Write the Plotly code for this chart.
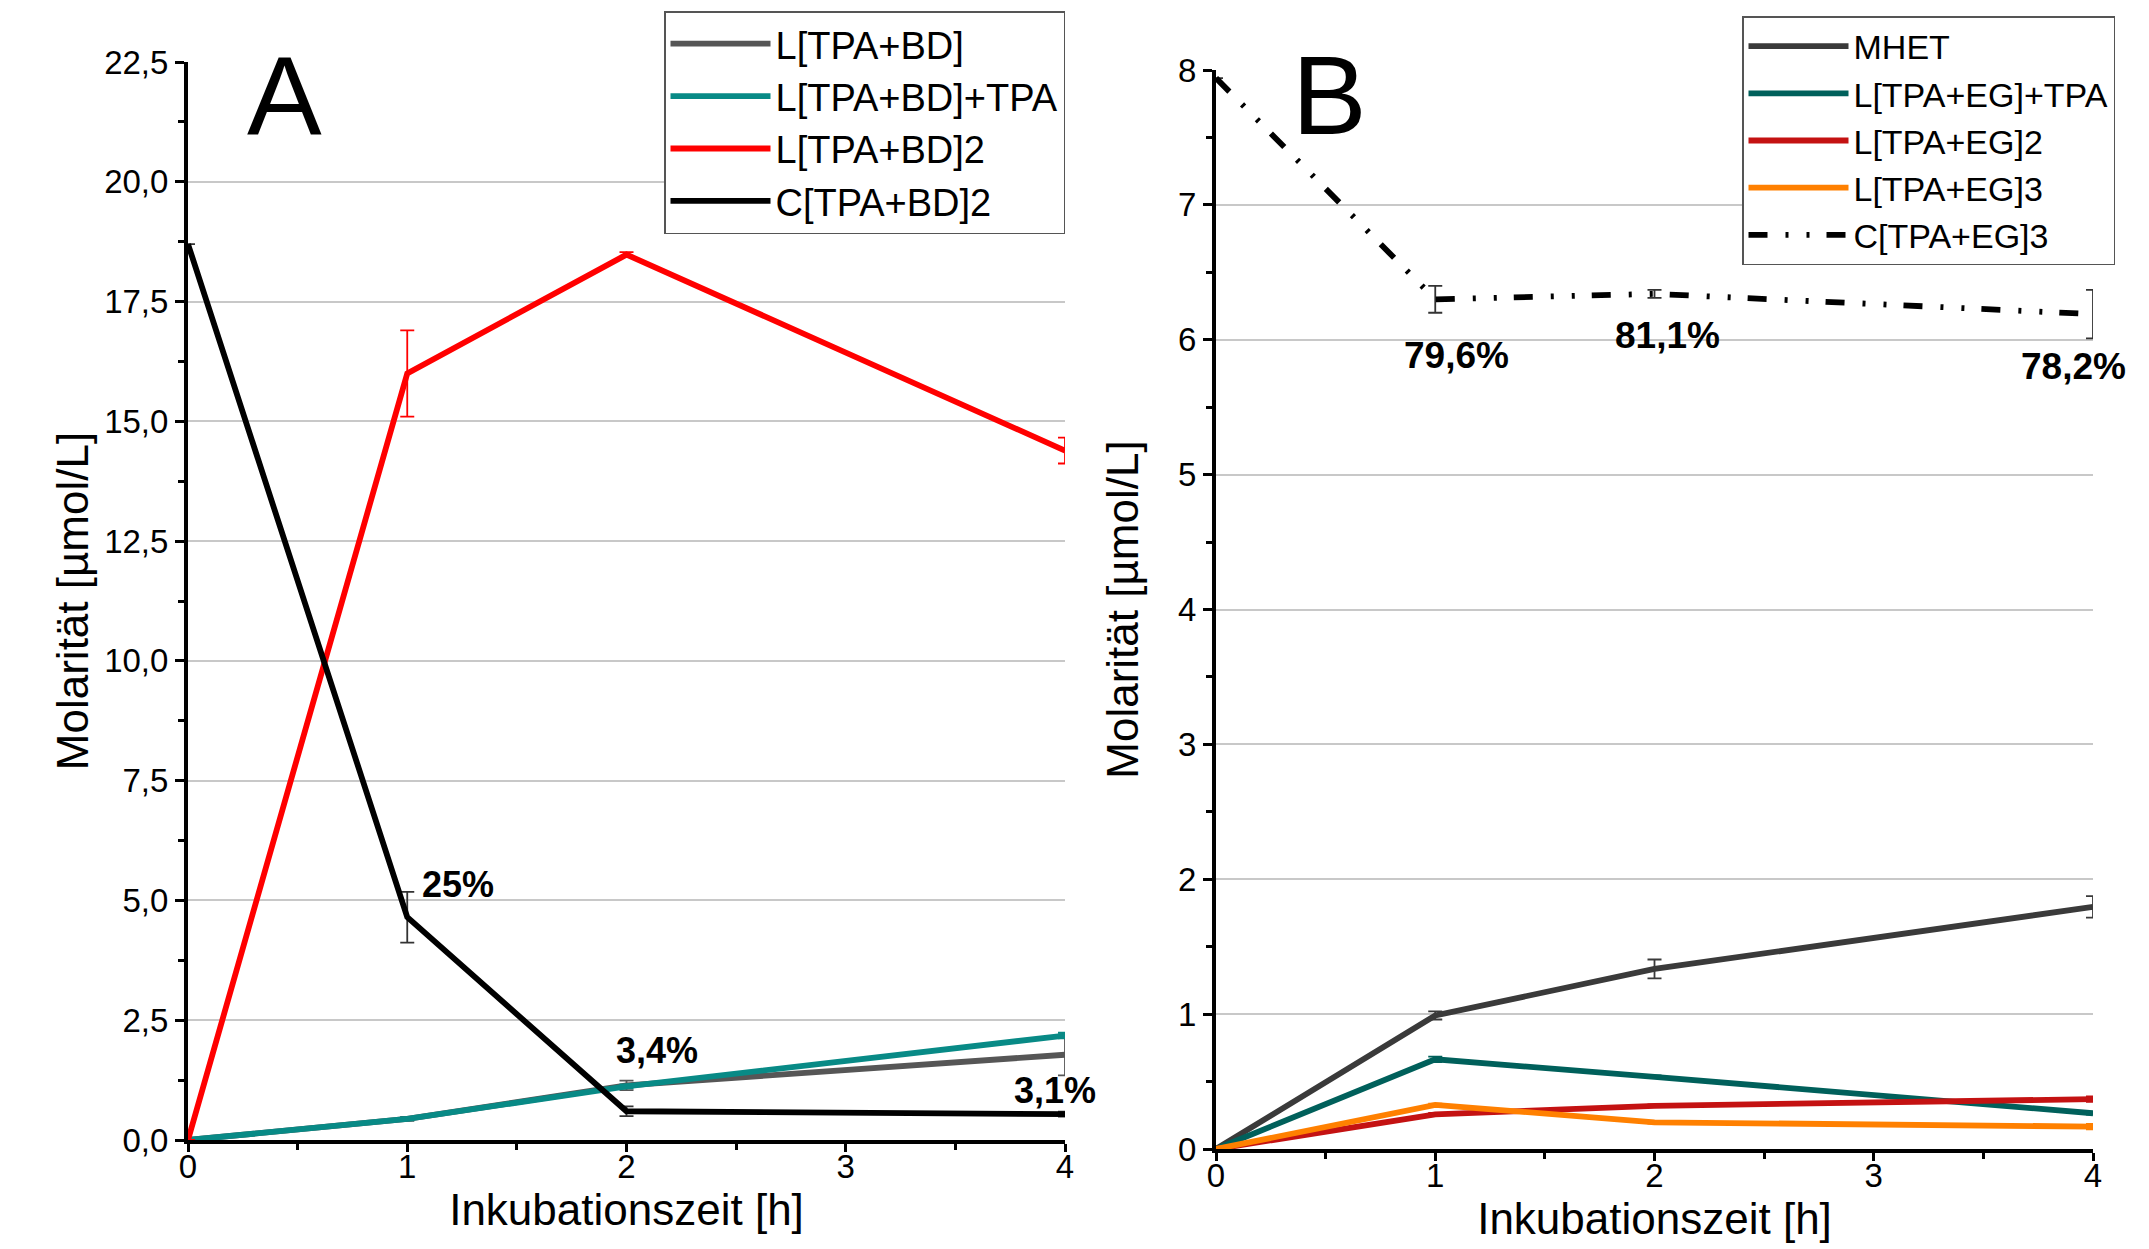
import plotly.graph_objects as go

# ---------------- data ----------------
time_h = [0, 1, 2, 4]

# Panel A
a_names = ["L[TPA+BD]", "L[TPA+BD]+TPA", "L[TPA+BD]2", "C[TPA+BD]2"]
a_l_bd = [0.0, 0.44, 1.14, 1.78]
a_l_bd_err = [None, 0.04, 0.10, 0.43]
a_l_bd_tpa = [0.0, 0.44, 1.12, 2.18]
a_l_bd_tpa_err = [None, 0.03, 0.04, 0.06]
a_l_bd2 = [0.0, 16.0, 18.48, 14.39]
a_l_bd2_err = [None, 0.9, 0.05, 0.27]
a_c_bd2 = [18.7, 4.65, 0.60, 0.54]
a_c_bd2_err = [None, 0.53, 0.10, 0.05]
a_pct_labels = ["25%", "3,4%", "3,1%"]
a_pct_x = [1.23, 2.14, 3.955]
a_pct_y = [5.34, 1.86, 1.04]

# Panel B
b_names = ["MHET", "L[TPA+EG]+TPA", "L[TPA+EG]2", "L[TPA+EG]3", "C[TPA+EG]3"]
b_mhet = [0.0, 0.99, 1.335, 1.795]
b_mhet_err = [None, 0.03, 0.07, 0.08]
b_l_eg_tpa = [0.0, 0.665, 0.535, 0.265]
b_l_eg_tpa_err = [None, 0.02, 0.01, 0.01]
b_l_eg2 = [0.0, 0.257, 0.32, 0.37]
b_l_eg2_err = [None, 0.01, 0.01, 0.02]
b_l_eg3 = [0.0, 0.327, 0.198, 0.166]
b_l_eg3_err = [None, 0.01, 0.01, 0.02]
b_c_eg3 = [7.94, 6.30, 6.34, 6.19]
b_c_eg3_err = [None, 0.10, 0.03, 0.18]
b_pct_labels = ["79,6%", "81,1%", "78,2%"]
b_pct_x = [1.095, 2.06, 3.91]
b_pct_y = [5.88, 6.03, 5.80]

x_ticks = [0, 1, 2, 3, 4]
a_y_ticks = [0, 2.5, 5, 7.5, 10, 12.5, 15, 17.5, 20, 22.5]
b_y_ticks = [0, 1, 2, 3, 4, 5, 6, 7, 8]

FONT = "Liberation Sans, Arial, sans-serif"
LW = 5.8
W, H = 2149, 1249
OFF = 8  # page body margin


def px(v):
    return (v - OFF) / W


def py(v):
    return 1 - (v - OFF) / H


fig = go.Figure()


def add_series(x, y, err, name, color, errcolor, xa, ya, legend, dash="solid"):
    fig.add_trace(go.Scatter(
        x=x, y=y, name=name, mode="lines",
        line=dict(color=color, width=LW, dash=dash),
        error_y=dict(type="data", array=err, visible=True, color=errcolor,
                     thickness=1.8, width=7),
        xaxis=xa, yaxis=ya, legend=legend, cliponaxis=False,
    ))


# Panel A traces
add_series(time_h, a_l_bd, a_l_bd_err, a_names[0], "#565656", "#565656", "x", "y", "legend")
add_series(time_h, a_l_bd_tpa, a_l_bd_tpa_err, a_names[1], "#088a86", "#088a86", "x", "y", "legend")
add_series(time_h, a_l_bd2, a_l_bd2_err, a_names[2], "#ff0000", "#ff0000", "x", "y", "legend")
add_series(time_h, a_c_bd2, a_c_bd2_err, a_names[3], "#000000", "#333333", "x", "y", "legend")

# Panel B traces
add_series(time_h, b_mhet, b_mhet_err, b_names[0], "#3a3a3a", "#3a3a3a", "x2", "y2", "legend2")
add_series(time_h, b_l_eg_tpa, b_l_eg_tpa_err, b_names[1], "#00605b", "#00605b", "x2", "y2", "legend2")
add_series(time_h, b_l_eg2, b_l_eg2_err, b_names[2], "#c41212", "#c41212", "x2", "y2", "legend2")
add_series(time_h, b_l_eg3, b_l_eg3_err, b_names[3], "#ff8000", "#ff8000", "x2", "y2", "legend2")
add_series(time_h, b_c_eg3, b_c_eg3_err, b_names[4], "#000000", "#333333", "x2", "y2", "legend2",
           dash="19px,18px,3px,18px,3px,17px")

annots = []
for t, xx, yy in zip(a_pct_labels, a_pct_x, a_pct_y):
    annots.append(dict(x=xx, y=yy, xref="x", yref="y", text="<b>%s</b>" % t, showarrow=False,
                       xanchor="center", yanchor="middle",
                       font=dict(family=FONT, size=36, color="#000")))
for t, xx, yy in zip(b_pct_labels, b_pct_x, b_pct_y):
    annots.append(dict(x=xx, y=yy, xref="x2", yref="y2", text="<b>%s</b>" % t, showarrow=False,
                       xanchor="center", yanchor="middle",
                       font=dict(family=FONT, size=37, color="#000")))
# panel letters
annots.append(dict(x=px(284), y=py(96), xref="paper", yref="paper", text="A",
                   xanchor="center", yanchor="middle",
                   showarrow=False, font=dict(family=FONT, size=112, color="#000")))
annots.append(dict(x=px(1329), y=py(96), xref="paper", yref="paper", text="B",
                   xanchor="center", yanchor="middle",
                   showarrow=False, font=dict(family=FONT, size=112, color="#000")))

tickfont = dict(family=FONT, size=33, color="#000")
titlefont = dict(family=FONT, size=44, color="#000")

common_x = dict(range=[0, 4], tickvals=x_ticks, ticktext=[str(v) for v in x_ticks],
                showline=True, linecolor="#000", linewidth=4, mirror=False,
                ticks="outside", ticklen=8, tickwidth=3, tickcolor="#000",
                ticklabelstandoff=-14,
                minor=dict(dtick=0.5, ticks="outside", ticklen=6, tickwidth=3, tickcolor="#000"),
                showgrid=False, zeroline=False, tickfont=tickfont, automargin=False,
                title=dict(text="Inkubationszeit [h]", font=titlefont, standoff=11))
common_y = dict(showline=True, linecolor="#000", linewidth=4,
                ticks="outside", ticklen=9, tickwidth=3, tickcolor="#000",
                showgrid=True, gridcolor="#c8c8c8", gridwidth=1.5, zeroline=False,
                tickfont=tickfont, automargin=False)

fig.update_layout(
    width=W, height=H,
    margin=dict(l=0, r=0, t=0, b=0, autoexpand=False),
    paper_bgcolor="white", plot_bgcolor="white",
    separators=", ",
    showlegend=True,
    font=dict(family=FONT, color="#000"),
    xaxis=dict(domain=[px(188), px(1065)], anchor="y", **common_x),
    yaxis=dict(domain=[py(1140), py(62)], anchor="x", range=[0, 22.5],
               tickvals=a_y_ticks, tickformat=".1f",
               minor=dict(dtick=1.25, ticks="outside", ticklen=6, tickwidth=3, tickcolor="#000"),
               title=dict(text="Molarität [µmol/L]", font=titlefont, standoff=3),
               **common_y),
    xaxis2=dict(domain=[px(1216), px(2093)], anchor="y2", **common_x),
    yaxis2=dict(domain=[py(1149), py(70)], anchor="x2", range=[0, 8],
                tickvals=b_y_ticks, tickformat="d",
                minor=dict(dtick=0.5, ticks="outside", ticklen=6, tickwidth=3, tickcolor="#000"),
                title=dict(text="Molarität [µmol/L]", font=titlefont, standoff=27),
                **common_y),
    legend=dict(x=px(1065), y=py(11), xanchor="right", yanchor="top",
                bgcolor="white", bordercolor="#555", borderwidth=1.5,
                font=dict(family=FONT, size=38, color="#000"),
                itemwidth=100, tracegroupgap=0, traceorder="normal"),
    legend2=dict(x=px(2115), y=py(16), xanchor="right", yanchor="top",
                 bgcolor="white", bordercolor="#555", borderwidth=1.5,
                 font=dict(family=FONT, size=34, color="#000"),
                 itemwidth=100, traceorder="normal"),
    annotations=annots,
)

fig.write_html("out.html")
